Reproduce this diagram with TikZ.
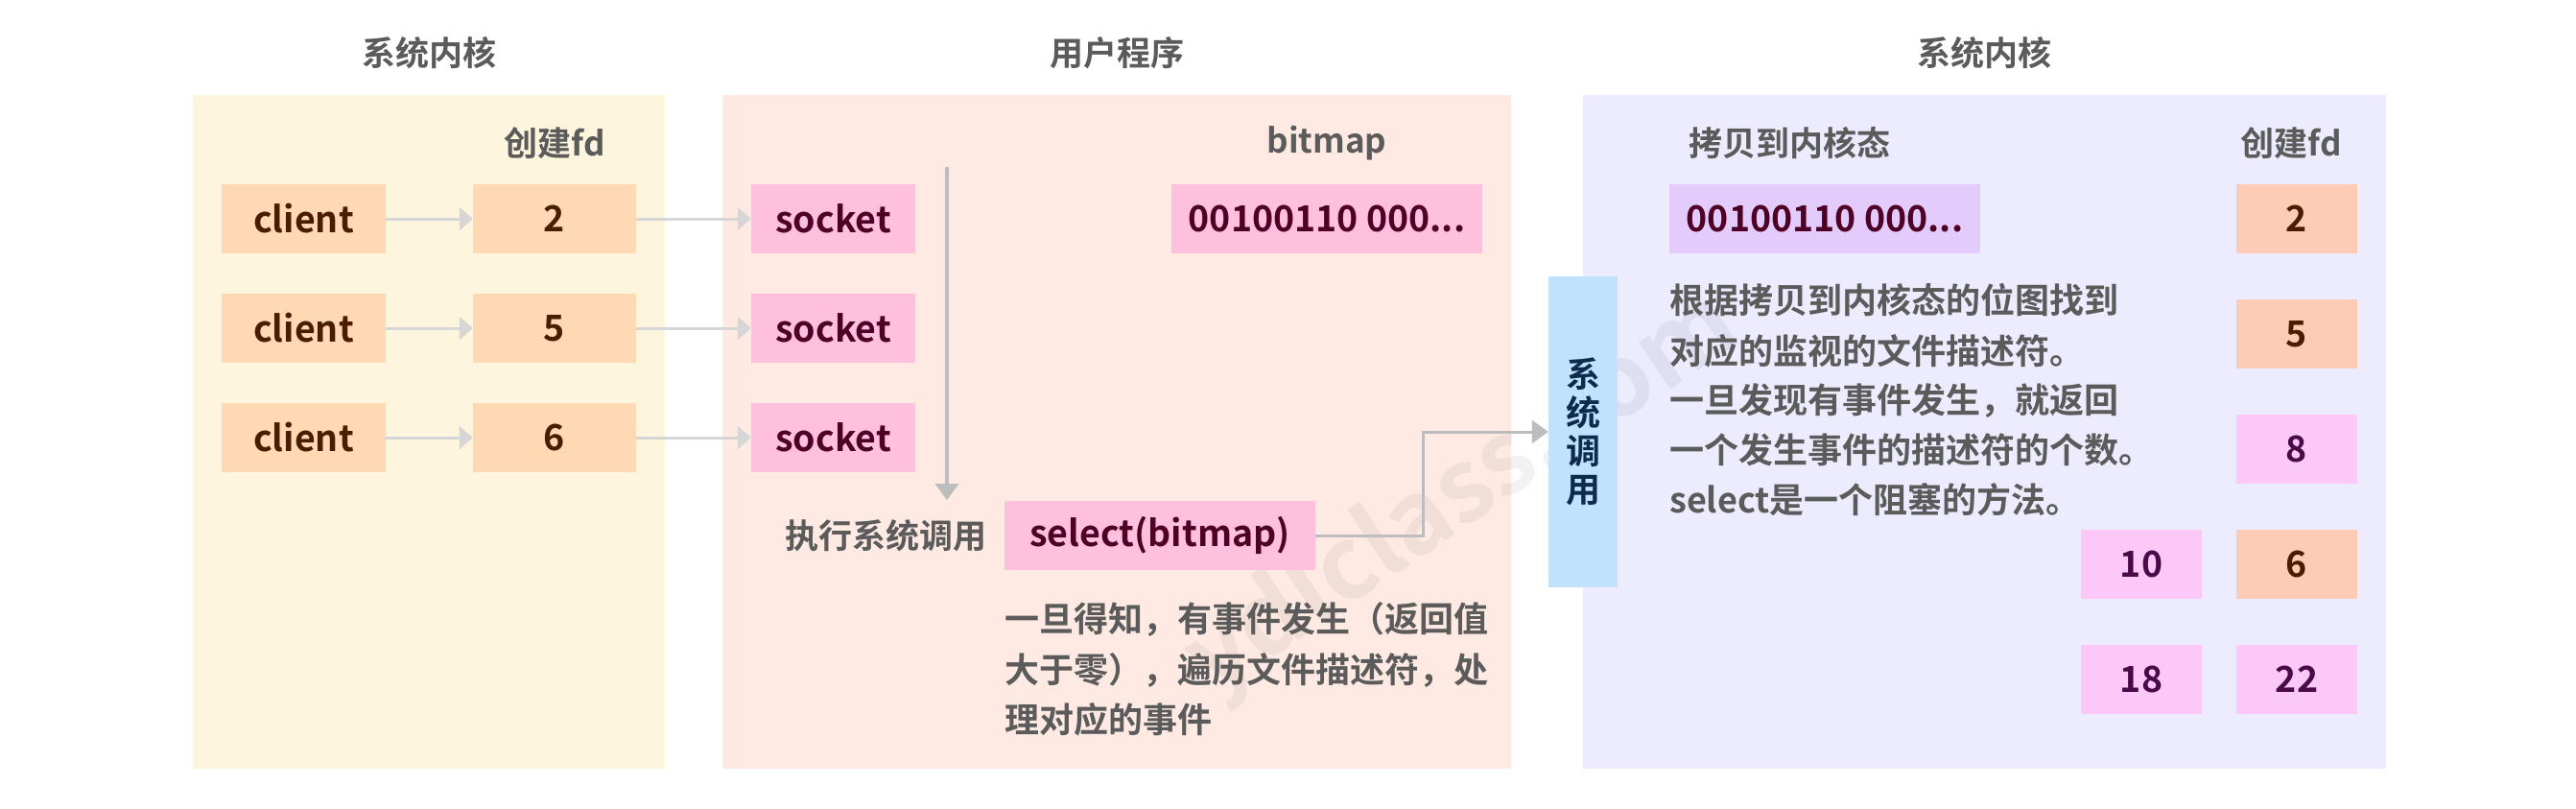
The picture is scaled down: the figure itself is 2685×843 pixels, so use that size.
\documentclass[tikz,border=0pt]{standalone}
\usepackage{fontspec}
\setmainfont{Noto Sans CJK SC}[BoldFont={Noto Sans CJK SC Bold}]
\usetikzlibrary{arrows.meta}
\definecolor{cPanelY}{HTML}{FEF5DE}
\definecolor{cPanelP}{HTML}{FEEAE3}
\definecolor{cPanelL}{HTML}{ECECFE}
\definecolor{cPeach}{HTML}{FED9B3}
\definecolor{cPink}{HTML}{FEC0DC}
\definecolor{cPurple}{HTML}{E3CCFB}
\definecolor{cSalmon}{HTML}{FECBB6}
\definecolor{cMagenta}{HTML}{FCC8F8}
\definecolor{cSys}{HTML}{C0E2FC}
\definecolor{cGray}{HTML}{5B5B5B}
\definecolor{cBrown}{HTML}{4A1C00}
\definecolor{cMaroon}{HTML}{4E0025}
\definecolor{cPurpText}{HTML}{4A0A48}
\definecolor{cNavy}{HTML}{0E2A4D}
\definecolor{cLight}{HTML}{D6D6D6}
\definecolor{cDark}{HTML}{BDBDBD}
\begin{document}
\begin{tikzpicture}[x=1pt,y=-1pt,
  bx/.style={minimum height=72pt, inner sep=0pt, font=\fontsize{37.5}{42}\selectfont\bfseries},
  peachbox/.style={bx, fill=cPeach, text=cBrown, minimum width=171pt},
  pinkbox/.style={bx, fill=cPink, text=cMaroon},
  salmonbox/.style={bx, fill=cSalmon, text=cBrown, minimum width=126pt},
  magbox/.style={bx, fill=cMagenta, text=cPurpText, minimum width=126pt},
  title/.style={inner sep=0pt, font=\fontsize{35}{40}\selectfont\bfseries, text=cGray},
  note/.style={inner sep=0pt, anchor=west, font=\fontsize{36}{40}\selectfont\bfseries, text=cGray},
  lightarrow/.style={draw=cLight, line width=3pt, -{Triangle[length=14pt,width=24pt]}},
  darkarrow/.style={draw=cDark, line width=3pt, -{Triangle[length=17pt,width=24pt]}}
]
\useasboundingbox[fill=white] (0,0) rectangle (2685,843);
% panels
\fill[cPanelY] (201,99) rectangle (693,801);
\fill[cPanelP] (753,99) rectangle (1575,801);
\fill[cPanelL] (1650,99) rectangle (2487,801);
% watermark (behind the boxes)
\node[rotate=34, opacity=0.05, text=black, font=\fontsize{105}{110}\selectfont\bfseries] (wm) at (1525,515) {ydlclass.com};
% titles
\node[title] (t1) at (447,55) {系统内核};
\node[title] (t2) at (1164,55) {用户程序};
\node[title] (t3) at (2068,55) {系统内核};
\node[title] (fdlab1) at (578,149) {创建fd};
\node[title] (bmlab) at (1383,149) {bitmap};
\node[title, anchor=west] (cplab) at (1760,149) {拷贝到内核态};
\node[title] (fdlab2) at (2388,149) {创建fd};
% left panel
\foreach \i/\y/\n in {1/228/2, 2/342/5, 3/456/6}{
  \node[peachbox] (cl\i) at (316.5,\y) {client};
  \node[peachbox, minimum width=170pt] (fd\i) at (578,\y) {\n};
  \node[pinkbox, minimum width=171pt] (so\i) at (868.5,\y) {socket};
  \draw[lightarrow] (cl\i.east) -- (fd\i.west);
  \draw[lightarrow] (fd\i.east) -- (so\i.west);
}
% middle panel
\node[pinkbox, minimum width=324pt] (bm) at (1383,228) {00100110 000...};
\coordinate (vtop) at (987,174);
\coordinate (vbot) at (987,521);
\draw[darkarrow, line width=4.5pt] (vtop) -- (vbot);
\node[title] (exec) at (923,558) {执行系统调用};
\node[pinkbox, minimum width=324pt] (sel) at (1209,558) {select(bitmap)};
\node[note] (n1) at (1047,645) {一旦得知，有事件发生（返回值};
\node[note] (n2) at (1047,698) {大于零），遍历文件描述符，处};
\node[note] (n3) at (1047,750) {理对应的事件};
% right panel
\node[bx, fill=cSys, text=cNavy, minimum width=72pt, minimum height=324pt, align=center,
  font=\fontsize{36}{40}\selectfont\bfseries] (sys) at (1650,450) {系\\统\\调\\用};
\coordinate (bend) at (1483,558);
\draw[darkarrow] (sel.east) -- (bend) |- (sys.west);
\node[bx, fill=cPurple, text=cMaroon, minimum width=324pt] (cp) at (1902,228) {00100110 000...};
\node[note] (r1) at (1740,313) {根据拷贝到内核态的位图找到};
\node[note] (r2) at (1740,366) {对应的监视的文件描述符。};
\node[note] (r3) at (1740,418) {一旦发现有事件发生，就返回};
\node[note] (r4) at (1740,469) {一个发生事件的描述符的个数。};
\node[note] (r5) at (1740,521) {select是一个阻塞的方法。};
\node[salmonbox] (k2) at (2394,228) {2};
\node[salmonbox] (k5) at (2394,348) {5};
\node[magbox] (k8) at (2394,468) {8};
\node[salmonbox] (k6) at (2394,588) {6};
\node[magbox] (k22) at (2394,708) {22};
\node[magbox] (k10) at (2232,588) {10};
\node[magbox] (k18) at (2232,708) {18};
\end{tikzpicture}
\end{document}
